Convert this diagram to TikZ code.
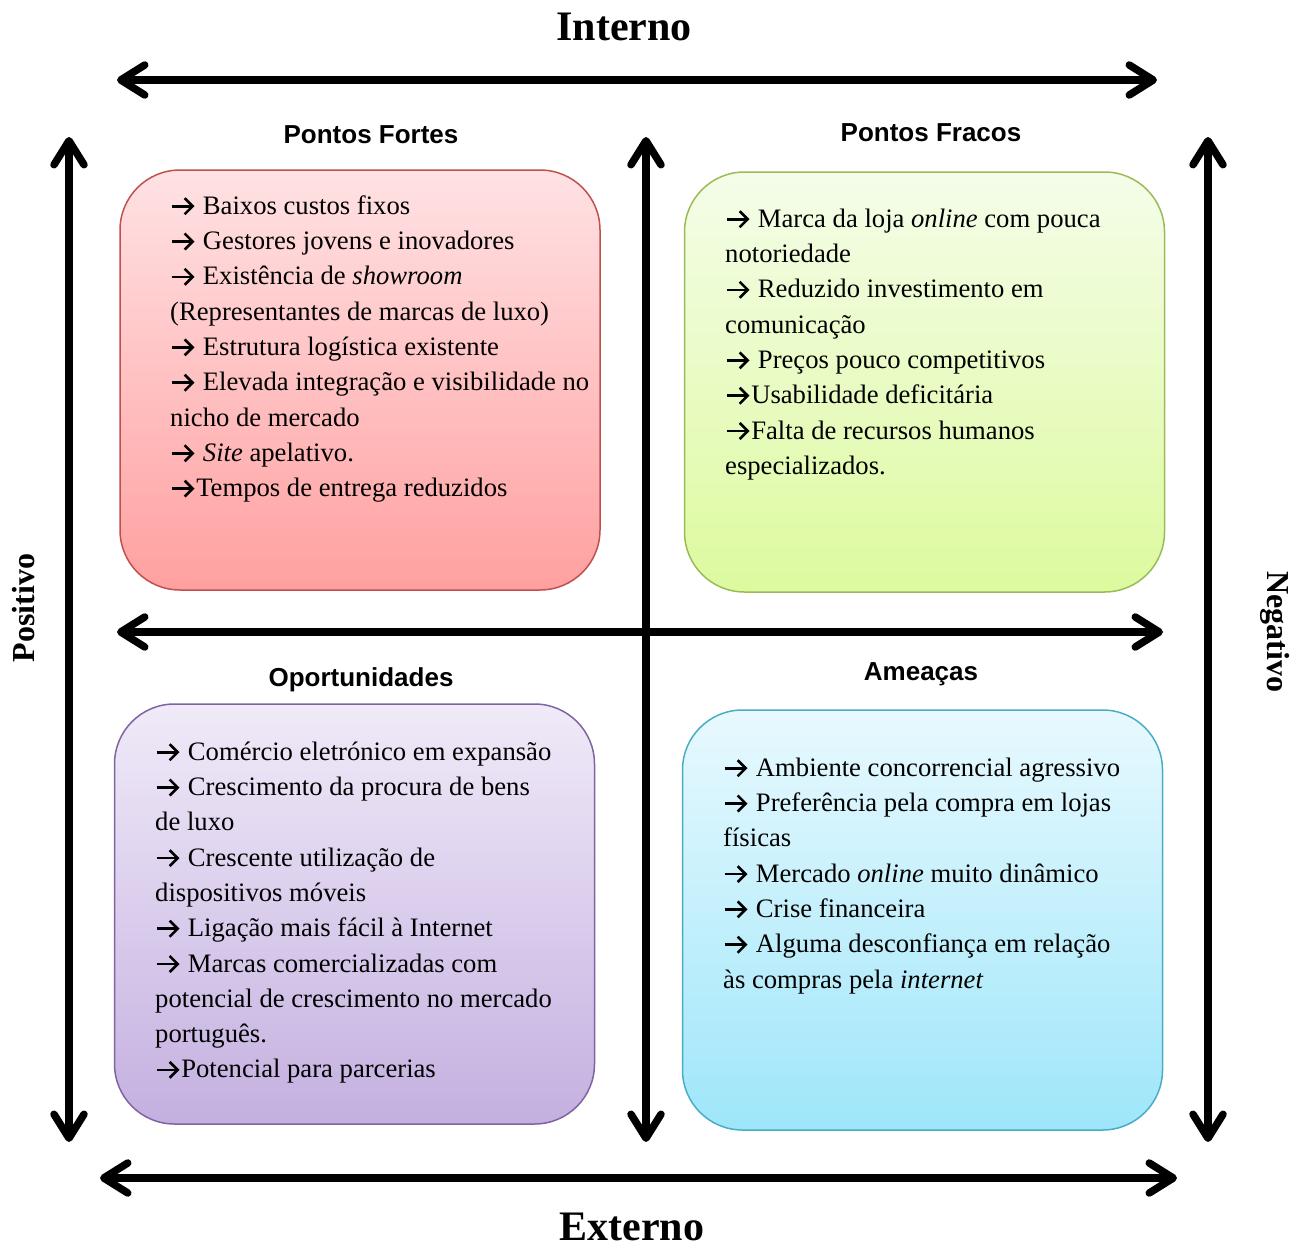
\documentclass[tikz,border=0pt]{standalone}
\usepackage{fontspec}
\setmainfont{Liberation Serif}
\newfontfamily\headfont{Liberation Sans}
\usetikzlibrary{arrows.meta}
% chevron-headed bullet arrow used in the lists
\newcommand\itemarrow{\tikz[baseline=-8pt,x=1pt,y=1pt]
  \draw[line width=2.6pt, -{Straight Barb[length=8pt,width=16pt]}]
  (0,0) -- (23,0);\hspace{0.5pt}}
\begin{document}
\begin{tikzpicture}[x=1pt,y=-1pt,
  axisarrow/.style={line width=7.5pt, line cap=round,
    arrows={Straight Barb[length=24pt,width=30pt,round]-Straight Barb[length=24pt,width=30pt,round]}},
  quad/.style={draw, line width=1.5pt, rounded corners=60pt,
    minimum width=480pt, minimum height=420pt, inner sep=0pt},
  heading/.style={font=\headfont\bfseries\fontsize{26}{30}\selectfont, inner sep=0pt},
  axislabel/.style={font=\bfseries\fontsize{42}{46}\selectfont, inner sep=0pt},
  sidelabel/.style={font=\bfseries\fontsize{32}{36}\selectfont, inner sep=0pt},
  listtext/.style={anchor=north west, align=left, inner sep=0pt,
    font=\fontsize{26.65}{35.3}\selectfont},
]
\useasboundingbox (0,0) rectangle (1304,1247);

% quadrant boxes
\node[quad, draw={rgb,255:red,192;green,80;blue,77},
  top color={rgb,255:red,255;green,226;blue,228},
  bottom color={rgb,255:red,255;green,160;blue,160}] (sf) at (360,380) {};
\node[quad, draw={rgb,255:red,155;green,187;blue,89},
  top color={rgb,255:red,244;green,253;blue,233},
  bottom color={rgb,255:red,221;green,250;blue,158}] (wk) at (924.5,382) {};
\node[quad, draw={rgb,255:red,128;green,100;blue,162},
  top color={rgb,255:red,240;green,234;blue,248},
  bottom color={rgb,255:red,196;green,176;blue,224}] (op) at (354.5,914) {};
\node[quad, draw={rgb,255:red,75;green,172;blue,198},
  top color={rgb,255:red,232;green,249;blue,254},
  bottom color={rgb,255:red,158;green,230;blue,250}] (th) at (922.5,920) {};

% axes
\coordinate (topL) at (117,80);   \coordinate (topR) at (1157,80);
\coordinate (midL) at (117,632);  \coordinate (midR) at (1163,632);
\coordinate (botL) at (100,1178); \coordinate (botR) at (1177,1178);
\coordinate (lT) at (69,137);     \coordinate (lB) at (69,1142);
\coordinate (cT) at (646,137);    \coordinate (cB) at (646,1142);
\coordinate (rT) at (1208,137);   \coordinate (rB) at (1208,1142);
\draw[axisarrow] (topL) -- (topR);
\draw[axisarrow] (midL) -- (midR);
\draw[axisarrow] (botL) -- (botR);
\draw[axisarrow] (lT) -- (lB);
\draw[axisarrow] (cT) -- (cB);
\draw[axisarrow] (rT) -- (rB);

% axis labels
\node[axislabel] (int) at (624,27) {Interno};
\node[axislabel] (ext) at (632,1227) {Externo};
\node[sidelabel, rotate=90] (pos) at (24,608) {Positivo};
\node[sidelabel, rotate=-90] (neg) at (1275,632) {Negativo};

% quadrant headings
\node[heading] (hsf) at (371,135) {Pontos Fortes};
\node[heading] (hwk) at (931,133) {Pontos Fracos};
\node[heading] (hop) at (361,680) {Oportunidades};
\node[heading] (hth) at (921,674) {Ameaças};

% quadrant contents
\node[listtext] (tsf) at (170,190) {\rule{0pt}{24pt}\itemarrow{} Baixos custos fixos\\
\itemarrow{} Gestores jovens e inovadores\\
\itemarrow{} Existência de \textit{showroom}\\
(Representantes de marcas de luxo)\\
\itemarrow{} Estrutura logística existente\\
\itemarrow{} Elevada integração e visibilidade no\\
nicho de mercado\\
\itemarrow{} \textit{Site} apelativo.\\
\itemarrow Tempos de entrega reduzidos};

\node[listtext] (twk) at (725,203) {\rule{0pt}{24pt}\itemarrow{} Marca da loja \textit{online} com pouca\\
notoriedade\\
\itemarrow{} Reduzido investimento em\\
comunicação\\
\itemarrow{} Preços pouco competitivos\\
\itemarrow Usabilidade deficitária\\
\itemarrow Falta de recursos humanos\\
especializados.};

\node[listtext] (top) at (155,736) {\rule{0pt}{24pt}\itemarrow{} Comércio eletrónico em expansão\\
\itemarrow{} Crescimento da procura de bens\\
de luxo\\
\itemarrow{} Crescente utilização de\\
dispositivos móveis\\
\itemarrow{} Ligação mais fácil à Internet\\
\itemarrow{} Marcas comercializadas com\\
potencial de crescimento no mercado\\
português.\\
\itemarrow Potencial para parcerias};

\node[listtext] (tth) at (723,752) {\rule{0pt}{24pt}\itemarrow{} Ambiente concorrencial agressivo\\
\itemarrow{} Preferência pela compra em lojas\\
físicas\\
\itemarrow{} Mercado \textit{online} muito dinâmico\\
\itemarrow{} Crise financeira\\
\itemarrow{} Alguma desconfiança em relação\\
às compras pela \textit{internet}};
\end{tikzpicture}
\end{document}
